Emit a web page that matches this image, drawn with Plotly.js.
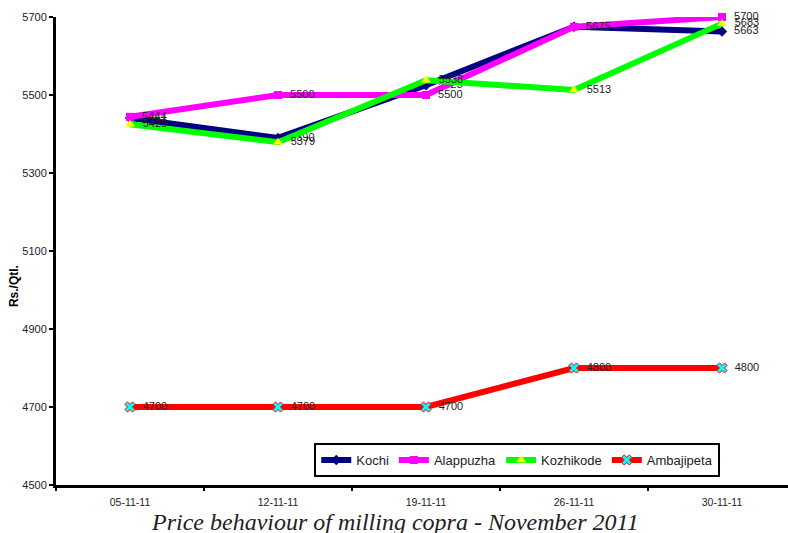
<!DOCTYPE html>
<html><head><meta charset="utf-8">
<script src="https://cdn.plot.ly/plotly-3.0.1.min.js"></script>
<style>html,body{margin:0;padding:0;overflow:hidden;background:#fff;}</style>
</head><body>
<div id="chart" style="width:800px;height:533px;"></div>
<script>
const dates = ["05-11-11", "12-11-11", "19-11-11", "26-11-11", "30-11-11"];
const kochi = [5441, 5390, 5525, 5675, 5663];
const alappuzha = [5444, 5500, 5500, 5675, 5700];
const kozhikode = [5425, 5379, 5538, 5513, 5683];
const ambajipeta = [4700, 4700, 4700, 4800, 4800];
const yTicks = [4500, 4700, 4900, 5100, 5300, 5500, 5700];

function series(name, y, lineColor, marker) {
  return {
    type: 'scatter', mode: 'lines+markers+text', name: name,
    x: dates, y: y,
    text: y.map(v => '\u00a0\u00a0' + v), textposition: 'middle right',
    textfont: {family: 'Liberation Sans, Arial, sans-serif', size: 11, color: '#222'},
    line: {color: lineColor, width: 6},
    marker: marker, cliponaxis: false
  };
}

const traces = [
  series('Kochi', kochi, '#000080', {symbol: 'diamond', size: 8, color: '#000080'}),
  series('Alappuzha', alappuzha, '#ff00ff', {symbol: 'square', size: 8, color: '#ff00ff'}),
  series('Kozhikode', kozhikode, '#00ff00', {symbol: 'triangle-up', size: 9, color: '#ffff00'}),
  series('Ambajipeta', ambajipeta, '#ff0000', {symbol: 'x', size: 9, color: '#00ffff', line: {color: '#ff0000', width: 1}})
];

const layout = {
  width: 800, height: 533,
  margin: {l: 56, r: 4, t: 17, b: 48},
  paper_bgcolor: '#fff', plot_bgcolor: '#fff',
  font: {family: 'Liberation Sans, Arial, sans-serif', size: 10, color: '#222'},
  showlegend: true,
  legend: {
    orientation: 'h', x: 0.349, xanchor: 'left', y: 0.0897, yanchor: 'top',
    bordercolor: '#000', borderwidth: 2, bgcolor: '#fff',
    font: {size: 13, color: '#222'}, traceorder: 'normal'
  },
  xaxis: {
    type: 'category', range: [-0.5, 4.5],
    showline: true, linecolor: '#000', linewidth: 3,
    ticks: 'outside', tickson: 'boundaries', ticklen: 3, tickwidth: 2, tickcolor: '#000',
    ticklabelstandoff: 5,
    showgrid: false, zeroline: false,
    tickfont: {size: 10.5, color: '#222'}
  },
  yaxis: {
    range: [4500, 5700], tickvals: yTicks, ticktext: yTicks.map(String),
    showline: true, linecolor: '#000', linewidth: 3,
    ticks: 'outside', ticklen: 4, tickwidth: 2, tickcolor: '#000',
    showgrid: false, zeroline: false,
    tickfont: {size: 11, color: '#222'}
  },
  annotations: [
    {text: 'Rs./Qtl.', xref: 'paper', yref: 'paper', x: -0.0568, y: 0.425,
     xanchor: 'center', yanchor: 'middle',
     textangle: -90, showarrow: false, font: {size: 12, color: '#000', family: 'Liberation Sans, Arial, sans-serif', weight: 'bold'}},
    {text: 'Price behaviour of milling copra - November 2011', xref: 'paper', yref: 'paper',
     x: 0.458, y: -0.079, xanchor: 'center', yanchor: 'middle', showarrow: false,
     font: {family: 'Liberation Serif, Times New Roman, serif', size: 24, color: '#222', style: 'italic'}}
  ]
};

Plotly.newPlot('chart', traces, layout, {displayModeBar: false, staticPlot: true});
</script>
</body></html>
